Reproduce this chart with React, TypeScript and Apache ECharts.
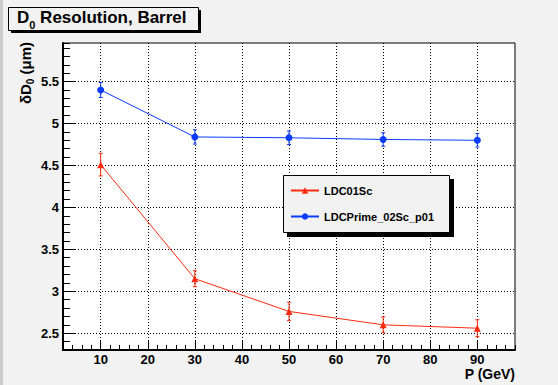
import React, { useEffect, useRef } from "react";
import * as echarts from "echarts";

// Beam momentum points (GeV)
const momenta = [10, 30, 50, 70, 90];

// D0 resolution (um) and its uncertainty for each detector model
const ldc01Sc = [4.51, 3.15, 2.76, 2.6, 2.56];
const ldc01ScErr = [0.135, 0.095, 0.11, 0.095, 0.1];
const ldcPrime = [5.4, 4.84, 4.83, 4.81, 4.8];
const ldcPrimeErr = [0.09, 0.085, 0.08, 0.08, 0.08];

// Major tick / grid positions
const xMajor = [10, 20, 30, 40, 50, 60, 70, 80, 90];
const yMajor = [2.5, 3, 3.5, 4, 4.5, 5, 5.5];

const RED = "#ff2a0e";
const BLUE = "#0a3cff";
const FONT = "'Liberation Sans', Arial, Helvetica, sans-serif";

function errorBars(name: string, values: number[], errs: number[], color: string) {
  return {
    type: "custom",
    name,
    xAxisIndex: 0,
    yAxisIndex: 0,
    z: 3,
    data: momenta.map((x, i) => [x, values[i] - errs[i], values[i] + errs[i]]),
    encode: { x: 0, y: [1, 2] },
    renderItem: (_params: any, api: any) => {
      const x = api.value(0);
      const top = api.coord([x, api.value(2)]);
      const bot = api.coord([x, api.value(1)]);
      const cap = 2;
      const st = { stroke: color, lineWidth: 1 };
      return {
        type: "group",
        children: [
          { type: "line", shape: { x1: top[0], y1: top[1], x2: bot[0], y2: bot[1] }, style: st },
          { type: "line", shape: { x1: top[0] - cap, y1: top[1], x2: top[0] + cap, y2: top[1] }, style: st },
          { type: "line", shape: { x1: bot[0] - cap, y1: bot[1], x2: bot[0] + cap, y2: bot[1] }, style: st },
        ],
      };
    },
  };
}

export default function App() {
  const ref = useRef<HTMLDivElement>(null);

  useEffect(() => {
    if (!ref.current) return;
    const chart = echarts.init(ref.current, undefined, { renderer: "svg" });

    const labelStyle = { color: "#000", fontFamily: FONT, fontWeight: "bold", fontSize: 13 };
    const dotted = { type: [1, 2] as any, color: "#000", width: 1 };

    chart.setOption({
      animation: false,
      backgroundColor: "#f2f2f2",
      grid: {
        left: 63,
        right: 43,
        top: 43,
        bottom: 35,
        show: true,
        backgroundColor: "#ffffff",
        borderColor: "#000",
        borderWidth: 1,
      },
      xAxis: [
        {
          type: "value",
          min: 2,
          max: 98,
          interval: 2,
          position: "bottom",
          axisLine: { show: true, onZero: false, lineStyle: { color: "#000", width: 2 } },
          axisTick: { show: true, inside: true, length: 5, lineStyle: { color: "#000", width: 1 } },
          axisLabel: {
            ...labelStyle,
            margin: 3,
            formatter: (v: number) => (Math.abs(v % 10) < 1e-6 ? String(v) : ""),
          },
          splitLine: { show: false },
        },
        {
          type: "value",
          min: 2,
          max: 98,
          position: "bottom",
          axisLine: { show: false },
          axisTick: { show: true, inside: true, length: 9, customValues: xMajor, lineStyle: { color: "#000", width: 1 } },
          axisLabel: { show: false },
          splitLine: { show: true, lineStyle: dotted },
        },
      ],
      yAxis: [
        {
          type: "value",
          min: 2.3,
          max: 5.96,
          interval: 0.1,
          position: "left",
          axisLine: { show: true, onZero: false, lineStyle: { color: "#000", width: 2 } },
          axisTick: { show: true, inside: true, length: 7, lineStyle: { color: "#000", width: 1 } },
          axisLabel: {
            ...labelStyle,
            margin: 4,
            formatter: (v: number) => (Math.abs(v * 2 - Math.round(v * 2)) < 1e-6 ? String(+v.toFixed(1)) : ""),
          },
          splitLine: { show: false },
        },
        {
          type: "value",
          min: 2.3,
          max: 5.96,
          position: "left",
          axisLine: { show: false },
          axisTick: { show: true, inside: true, length: 13, customValues: yMajor, lineStyle: { color: "#000", width: 1 } },
          axisLabel: { show: false },
          splitLine: { show: true, lineStyle: dotted },
        },
      ],
      legend: {
        show: true,
        orient: "vertical",
        left: 290,
        top: 185,
        padding: 0,
        itemGap: 15,
        itemWidth: 28,
        itemHeight: 8,
        data: ["LDC01Sc", "LDCPrime_02Sc_p01"],
        textStyle: { color: "#000", fontFamily: FONT, fontWeight: "bold", fontSize: 11 },
        z: 20,
      },
      graphic: [
        { type: "rect", left: 0, top: 0, shape: { width: 3, height: 385 }, style: { fill: "#cccccc" }, silent: true },
        // title box with drop shadow
        { type: "rect", shape: { x: 11, y: 10, width: 190, height: 23 }, style: { fill: "#000" }, z: 10 },
        { type: "rect", shape: { x: 8.5, y: 7.5, width: 190, height: 23 }, style: { fill: "#f2f2f2", stroke: "#000", lineWidth: 1 }, z: 11 },
        {
          type: "text",
          x: 17,
          y: 17.5,
          z: 12,
          style: {
            text: "{a|D}{s|0}{a| Resolution, Barrel}",
            verticalAlign: "middle",
            rich: {
              a: { fontFamily: FONT, fontWeight: "bold", fontSize: 17, lineHeight: 32, fill: "#000" },
              s: { fontFamily: FONT, fontWeight: "bold", fontSize: 11, lineHeight: 11, padding: [15, 0, 0, 0], fill: "#000" },
            },
          },
        },
        // y axis title
        {
          type: "text",
          x: 25,
          y: 73,
          rotation: Math.PI / 2,
          z: 12,
          style: {
            text: "{a|δD}{s|0}{a| (μm)}",
            align: "center",
            verticalAlign: "middle",
            rich: {
              a: { fontFamily: FONT, fontWeight: "bold", fontSize: 15, lineHeight: 28, fill: "#000" },
              s: { fontFamily: FONT, fontWeight: "bold", fontSize: 10, lineHeight: 10, padding: [11, 0, 0, 0], fill: "#000" },
            },
          },
        },
        // x axis title
        {
          type: "text",
          x: 515,
          y: 374,
          z: 12,
          style: {
            text: "P (GeV)",
            align: "right",
            verticalAlign: "middle",
            fontFamily: FONT,
            fontWeight: "bold",
            fontSize: 14,
            fill: "#000",
          },
        },
        // legend box with drop shadow
        { type: "rect", shape: { x: 287, y: 179, width: 167, height: 58 }, style: { fill: "#000" }, z: 10 },
        { type: "rect", shape: { x: 283.5, y: 175.5, width: 166, height: 57 }, style: { fill: "#f2f2f2", stroke: "#000", lineWidth: 1 }, z: 11 },
      ],
      series: [
        errorBars("LDC01Sc err", ldc01Sc, ldc01ScErr, RED),
        errorBars("LDCPrime err", ldcPrime, ldcPrimeErr, BLUE),
        {
          type: "line",
          name: "LDC01Sc",
          xAxisIndex: 0,
          yAxisIndex: 0,
          z: 4,
          data: momenta.map((x, i) => [x, ldc01Sc[i]]),
          symbol: "triangle",
          symbolSize: 7,
          showSymbol: true,
          lineStyle: { color: RED, width: 1 },
          itemStyle: { color: RED },
        },
        {
          type: "line",
          name: "LDCPrime_02Sc_p01",
          xAxisIndex: 0,
          yAxisIndex: 0,
          z: 4,
          data: momenta.map((x, i) => [x, ldcPrime[i]]),
          symbol: "circle",
          symbolSize: 7,
          showSymbol: true,
          lineStyle: { color: BLUE, width: 1 },
          itemStyle: { color: BLUE },
        },
      ],
    });

    return () => chart.dispose();
  }, []);

  return <div ref={ref} style={{ position: "absolute", left: 0, top: 0, width: 558, height: 385 }} />;
}
